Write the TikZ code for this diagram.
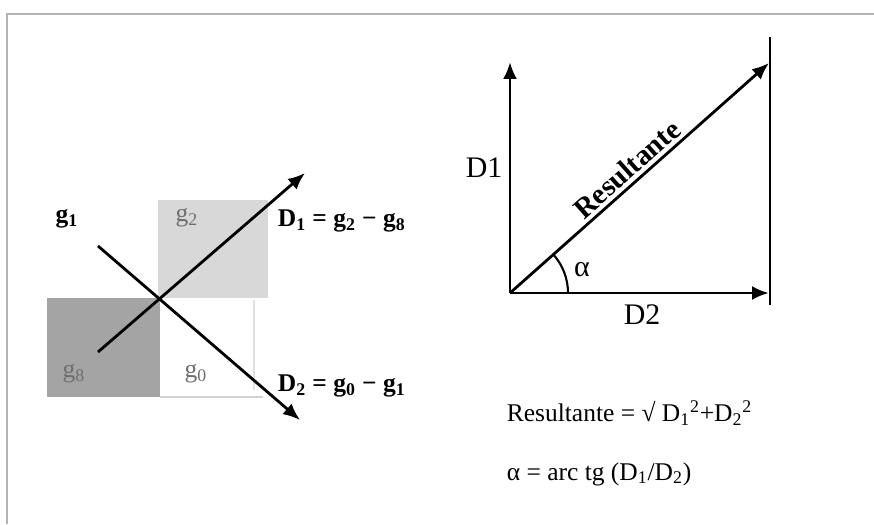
\documentclass[tikz,border=0pt]{standalone}
\usepackage{fontspec}
\setmainfont{Liberation Serif}
\usetikzlibrary{arrows.meta,positioning,calc}
\definecolor{CellLight}{HTML}{D8D8D8}
\definecolor{CellDark}{HTML}{A4A4A4}
\definecolor{FrameGray}{HTML}{B4B4B4}
\definecolor{LabelGray}{HTML}{6E6E6E}

\begin{document}
\begin{tikzpicture}[x=0.02cm, y=-0.02cm,
  every node/.style={font=\fontsize{14.5}{17}\selectfont, inner sep=2pt},
  vec/.style={-{Latex[length=3.4mm,width=2.8mm]}, line width=1.6pt},
  cell/.style={LabelGray},
  eqn/.style={anchor=west, font=\fontsize{14.5}{17}\selectfont\bfseries},
  formula/.style={anchor=west},
  axlbl/.style={font=\fontsize{17}{20}\selectfont},
]
\useasboundingbox (0,0) rectangle (874,524);
\draw[FrameGray, line width=1.2pt] (7,524) -- (7,14) -- (874,14);

% gradient cells
\fill[CellLight] (158,200) rectangle (268,298);
\fill[CellDark]  (47,298)  rectangle (160,397);
\draw[FrameGray!60, line width=0.8pt] (160,397) -- (263,397);
\draw[FrameGray!40, line width=0.8pt] (254,300) -- (254,390);

\node[font=\fontsize{14.5}{17}\selectfont\bfseries] (g1) at (67,219) {g\textsubscript{1}};
\node[cell] (g2) at (187,218) {g\textsubscript{2}};
\node[cell] (g8) at (74,374) {g\textsubscript{8}};
\node[cell] (g0) at (196,374) {g\textsubscript{0}};

\coordinate (d1s) at (98,352);
\coordinate (d1e) at (305,173);
\coordinate (d2s) at (98,246);
\coordinate (d2e) at (300,420);
\draw[vec] (d1s) -- (d1e);
\draw[vec] (d2s) -- (d2e);

\node[eqn] (eqd1) at (274,221) {D\textsubscript{1} = g\textsubscript{2} − g\textsubscript{8}};
\node[eqn] (eqd2) at (274,386) {D\textsubscript{2} = g\textsubscript{0} − g\textsubscript{1}};

% vector sum
\coordinate (orig) at (510,293);
\coordinate (d1top) at (510,62);
\coordinate (d2end) at (769,293);
\coordinate (res) at (769,63);
\coordinate (bartop) at (770,37);
\coordinate (barbot) at (770,305);
\draw[line width=1.3pt] (bartop) -- (barbot);
\draw[vec] (orig) -- (d1top);
\draw[vec] (orig) -- (d2end);
\draw[vec] (orig) -- node[sloped, above, pos=0.49, font=\fontsize{16.5}{19}\selectfont\bfseries] (reslbl) {Resultante} (res);
\draw[line width=1.2pt] ($(orig)+(58,0)$) arc[start angle=0, end angle=-41.6, radius=58];

\node[axlbl] (lblD1) at (484,168) {D1};
\node[axlbl] (lblD2) at (642,315) {D2};
\node[axlbl] (alpha) at (582,270) {α};

\node[formula] (fres) at (503,413) {Resultante = √ D\textsubscript{1}\textsuperscript{2}+D\textsubscript{2}\textsuperscript{2}};
\node[formula] (falpha) at (503,474) {α = arc tg (D\textsubscript{1}/D\textsubscript{2})};
\end{tikzpicture}
\end{document}
